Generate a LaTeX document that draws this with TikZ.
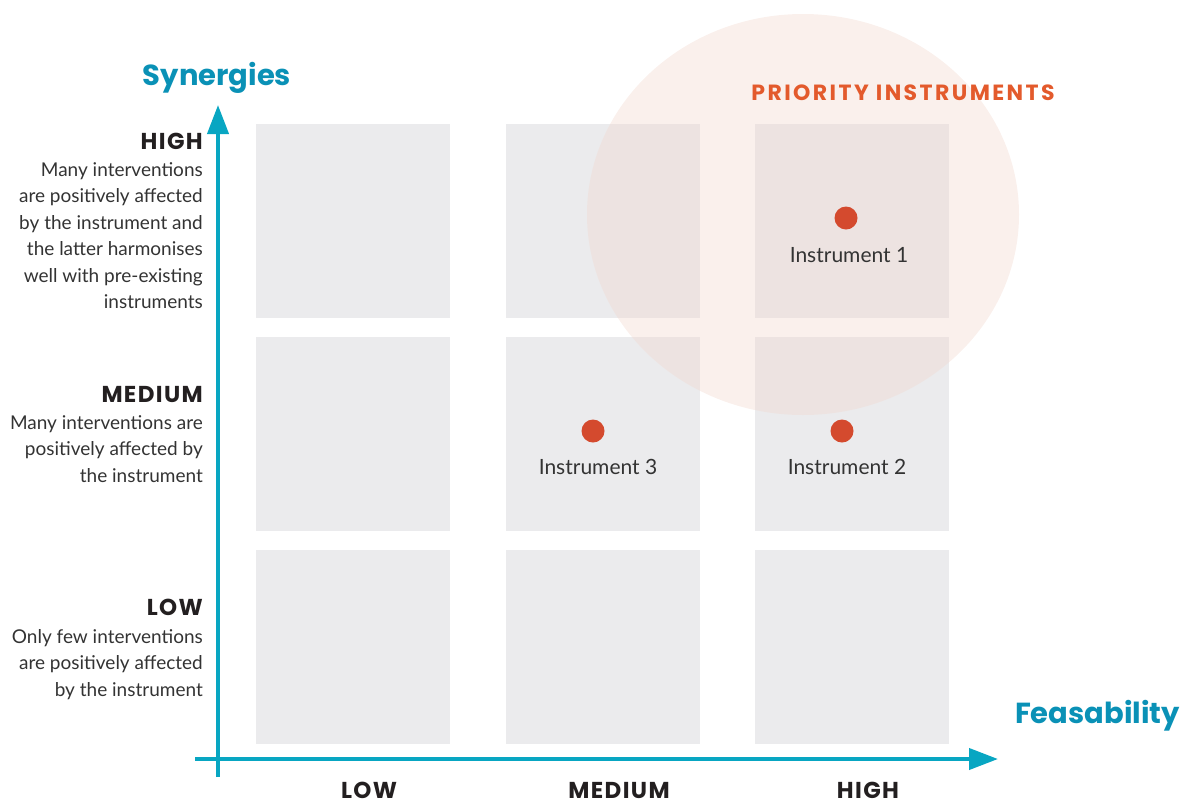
\documentclass[tikz,border=0pt]{standalone}
\usepackage{fontspec}
\setmainfont{Lato}
\newfontfamily\headfont{Poppins}
\newfontfamily\lvlfont{Poppins}[LetterSpace=6.0]
\newfontfamily\priofont{Poppins}[LetterSpace=11.0]
\usetikzlibrary{shapes.geometric, positioning, arrows.meta}

\definecolor{axisblue}{HTML}{08A6C2}
\definecolor{titleblue}{HTML}{0A91B6}
\definecolor{cellgray}{HTML}{EBEBED}
\definecolor{priofill}{RGB}{242,217,207}
\definecolor{priotext}{HTML}{E35A2C}
\definecolor{dotred}{HTML}{D44A2E}
\definecolor{inkdark}{HTML}{231F20}
\definecolor{inkbody}{HTML}{333333}

\begin{document}
\begin{tikzpicture}[
  x=1pt, y=-1pt,
  cell/.style={rectangle, fill=cellgray, minimum width=194, minimum height=194, inner sep=0},
  prio/.style={ellipse, fill=priofill, fill opacity=0.4, minimum width=432, minimum height=401, inner sep=0},
  axis/.style={-{Triangle[length=29pt, width=21pt]}, line width=4pt, draw=axisblue},
  axtitle/.style={font=\headfont\bfseries\fontsize{29}{32}\selectfont, text=titleblue, inner sep=0},
  lvl/.style={font=\lvlfont\bfseries\fontsize{23}{25}\selectfont, text=inkdark, inner sep=0},
  desc/.style={font=\fontsize{19}{26.5}\selectfont, text=inkbody, align=right, inner sep=0},
  dot/.style={circle, fill=dotred, minimum size=23, inner sep=0},
  inst/.style={font=\fontsize{21}{23}\selectfont, text=inkbody, inner sep=0},
]
\useasboundingbox (0,0) rectangle (1182,804);
% Matrix cells (column = feasability, row = synergies)
\foreach \c/\x in {1/353, 2/603, 3/852}
  \foreach \r/\y in {1/221, 2/433.5, 3/646.5}
    \node[cell] (cell-\c-\r) at (\x,\y) {};
% Priority zone
\node[prio] (zone) at (803,214.5) {};
\node[font=\priofont\bfseries\fontsize{22}{24}\selectfont, text=priotext, inner sep=0, anchor=base] (zonelbl) at (903,100) {PRIORITY INSTRUMENTS};
% Axes
\coordinate (ystart) at (218,777);
\coordinate (ytip) at (218,105);
\coordinate (xstart) at (195,759);
\coordinate (xtip) at (998,759);
\draw[axis] (ystart) -- (ytip);
\draw[axis] (xstart) -- (xtip);
\node[axtitle, anchor=base] (synlbl) at (217,85) {Synergies};
\node[axtitle, anchor=base east] (feaslbl) at (1180,723) {Feasability};
% Synergy levels
\node[lvl, anchor=base east] (synhigh) at (203,149) {HIGH};
\node[desc, anchor=north east] (synhighdesc) at (203,162) {Many interventions\\are positively affected\\by the instrument and\\the latter harmonises\\well with pre-existing\\instruments};
\node[lvl, anchor=base east] (synmed) at (203,402) {MEDIUM};
\node[desc, anchor=north east] (synmeddesc) at (203,415) {Many interventions are\\positively affected by\\the instrument};
\node[lvl, anchor=base east] (synlow) at (203,615) {LOW};
\node[desc, anchor=north east] (synlowdesc) at (203,629) {Only few interventions\\are positively affected\\by the instrument};
% Feasability levels
\node[lvl, anchor=base] (feaslow) at (369,798) {LOW};
\node[lvl, anchor=base] (feasmed) at (619,798) {MEDIUM};
\node[lvl, anchor=base] (feashigh) at (868,798) {HIGH};
% Instruments
\node[dot] (dot1) at (846,218) {};
\node[inst, anchor=base] (inst1) at (849,262) {Instrument 1};
\node[dot] (dot2) at (842,431) {};
\node[inst, anchor=base] (inst2) at (847,474) {Instrument 2};
\node[dot] (dot3) at (593,431) {};
\node[inst, anchor=base] (inst3) at (598,474) {Instrument 3};
\end{tikzpicture}
\end{document}
